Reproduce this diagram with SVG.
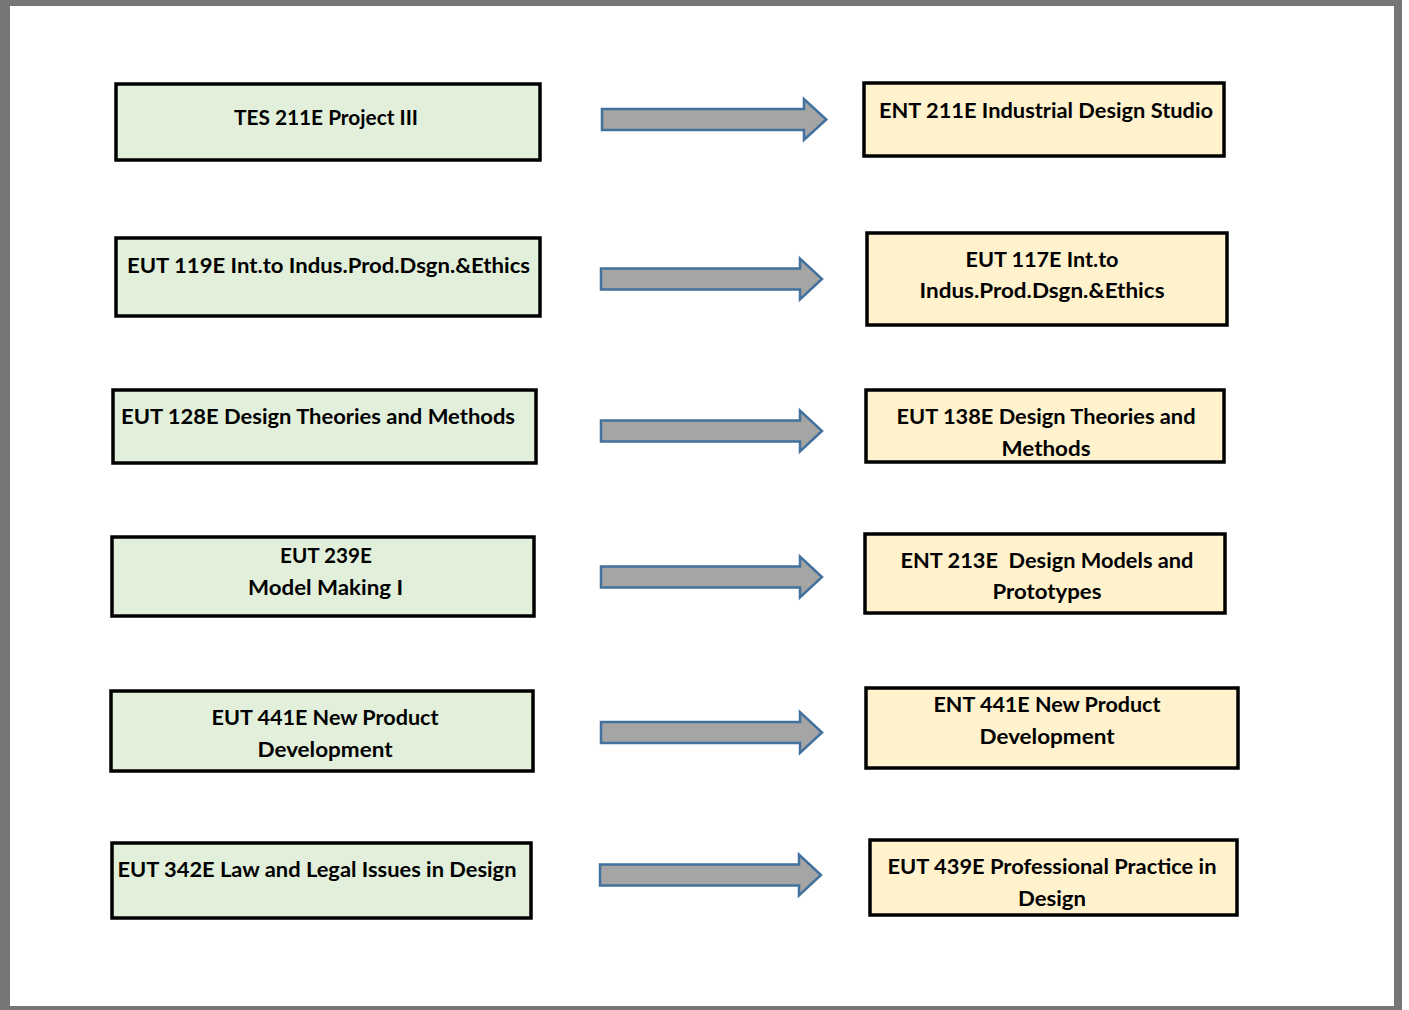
<svg xmlns="http://www.w3.org/2000/svg" width="1409" height="1010" viewBox="0 0 1409 1010">
<style>
.g{fill:#E2EFDA;stroke:#000;stroke-width:3.5}
.o{fill:#FFF2CC;stroke:#000;stroke-width:3.5}
.t{font-family:Lato,"Liberation Sans",sans-serif;font-weight:bold;font-size:21px;fill:#000;text-anchor:middle}
.a{fill:#A5A5A5;stroke:#41719C;stroke-width:2.5;stroke-linejoin:miter}
</style>
<defs>
<path id="arr" d="M0,-10.5 H199 V-20.5 L221,0 L199,20.5 V10.5 H0 Z"/>
</defs>
<rect x="0" y="0" width="1409" height="1010" fill="#fff"/>
<rect x="0" y="0" width="1402" height="1010" fill="#767676"/>
<rect x="10" y="6" width="1384" height="1000" fill="#fff"/>
<g id="connectors">
<use href="#arr" class="a" transform="translate(602,119.5) scale(1.015,1)"/>
<use href="#arr" class="a" transform="translate(601,279)"/>
<use href="#arr" class="a" transform="translate(601,431)"/>
<use href="#arr" class="a" transform="translate(601,577)"/>
<use href="#arr" class="a" transform="translate(601,732.5)"/>
<use href="#arr" class="a" transform="translate(600,875)"/>
</g>
<g id="L1"><rect class="g" x="116" y="84" width="424" height="76"/><text class="t" x="326" y="125" textLength="184" lengthAdjust="spacingAndGlyphs">TES 211E Project III</text></g>
<g id="L2"><rect class="g" x="116" y="238" width="424" height="78"/><text class="t" x="328.5" y="273" textLength="403" lengthAdjust="spacingAndGlyphs">EUT 119E Int.to Indus.Prod.Dsgn.&amp;Ethics</text></g>
<g id="L3"><rect class="g" x="113" y="390" width="423" height="73"/><text class="t" x="318" y="424" textLength="394" lengthAdjust="spacingAndGlyphs">EUT 128E Design Theories and Methods</text></g>
<g id="L4"><rect class="g" x="112" y="537" width="422" height="79"/><text class="t" x="326" y="563" textLength="92" lengthAdjust="spacingAndGlyphs">EUT 239E</text><text class="t" x="325.5" y="595" textLength="155" lengthAdjust="spacingAndGlyphs">Model Making I</text></g>
<g id="L5"><rect class="g" x="111" y="691" width="422" height="80"/><text class="t" x="325" y="725" textLength="227" lengthAdjust="spacingAndGlyphs">EUT 441E New Product</text><text class="t" x="325" y="757" textLength="135" lengthAdjust="spacingAndGlyphs">Development</text></g>
<g id="L6"><rect class="g" x="112" y="843" width="419" height="75"/><text class="t" x="317" y="877" textLength="399" lengthAdjust="spacingAndGlyphs">EUT 342E Law and Legal Issues in Design</text></g>
<g id="R1"><rect class="o" x="864" y="83" width="360" height="73"/><text class="t" x="1046" y="118" textLength="334" lengthAdjust="spacingAndGlyphs">ENT 211E Industrial Design Studio</text></g>
<g id="R2"><rect class="o" x="867" y="233" width="360" height="92"/><text class="t" x="1042" y="267" textLength="153" lengthAdjust="spacingAndGlyphs">EUT 117E Int.to</text><text class="t" x="1042" y="298" textLength="245" lengthAdjust="spacingAndGlyphs">Indus.Prod.Dsgn.&amp;Ethics</text></g>
<g id="R3"><rect class="o" x="866" y="390" width="358" height="72"/><text class="t" x="1046" y="424" textLength="299" lengthAdjust="spacingAndGlyphs">EUT 138E Design Theories and</text><text class="t" x="1046" y="456" textLength="89" lengthAdjust="spacingAndGlyphs">Methods</text></g>
<g id="R4"><rect class="o" x="865" y="534" width="360" height="79"/><text class="t" x="1047" y="568" textLength="293" lengthAdjust="spacingAndGlyphs" xml:space="preserve">ENT 213E  Design Models and</text><text class="t" x="1047" y="599" textLength="109" lengthAdjust="spacingAndGlyphs">Prototypes</text></g>
<g id="R5"><rect class="o" x="866" y="688" width="372" height="80"/><text class="t" x="1047" y="712" textLength="227" lengthAdjust="spacingAndGlyphs">ENT 441E New Product</text><text class="t" x="1047" y="744" textLength="135" lengthAdjust="spacingAndGlyphs">Development</text></g>
<g id="R6"><rect class="o" x="870" y="840" width="367" height="75"/><text class="t" x="1052" y="874" textLength="329" lengthAdjust="spacingAndGlyphs">EUT 439E Professional Practice in</text><text class="t" x="1052" y="906" textLength="68" lengthAdjust="spacingAndGlyphs">Design</text></g>
</svg>
